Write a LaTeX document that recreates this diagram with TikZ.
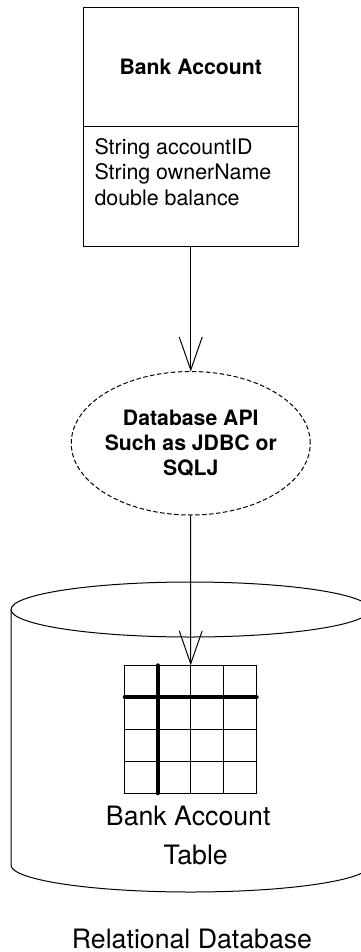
\documentclass[tikz,border=0pt]{standalone}
\usepackage{fontspec}
\setmainfont{TeX Gyre Heros}
\usetikzlibrary{arrows.meta}
\usetikzlibrary{calc}
\usetikzlibrary{positioning}
\usetikzlibrary{shapes.geometric}
\tikzset{>={Straight Barb[length=33pt,width=23pt,line width=1pt]}}

\begin{document}
\begin{tikzpicture}[
        x=1pt,y=1pt,
        line width=1pt,
        node distance=125pt,
        classbox/.style={draw,rectangle,outer sep=0pt,inner sep=0pt,minimum width=215.5pt,minimum height=119.5pt},
        apibubble/.style={draw,ellipse,dashed,dash pattern=on 4.5pt off 2.5pt,outer sep=0pt,inner sep=0pt,inner xsep=-3pt,
            minimum width=239pt,minimum height=143.5pt,align=center,font=\fontsize{21.2}{25.4}\selectfont\bfseries},
        smalltext/.style={inner sep=0pt,align=left,font=\fontsize{21.4}{25.4}\selectfont},
        bigtext/.style={inner sep=0pt,font=\fontsize{26.7}{30}\selectfont},
        tablegrid/.style={draw,rectangle,outer sep=0pt,inner sep=0pt,minimum width=132pt,minimum height=128pt},
        thickline/.style={line width=4pt,line cap=round}
    ]
    \useasboundingbox (0,0) rectangle (361,-952);

    \node[classbox,font=\fontsize{21.2}{25.4}\selectfont\bfseries] (head) at (190.75,-67.25) {Bank Account};
    \node[classbox,below=0pt of head] (attrs) {};
    \node[smalltext,anchor=north west] (fields) at ($(attrs.north west)+(11,-11)$) {String accountID\\String ownerName\\double balance};

    \node[apibubble,below=of attrs] (api) {Database API\\Such as JDBC or\\SQLJ};

    % database drum
    \coordinate (dbtop) at (190.5,-609.5);
    \coordinate (dbbot) at (190.5,-865);
    \draw (dbtop) ellipse (179.5 and 27.5);
    \draw ($(dbtop)+(-179.5,0)$) -- ($(dbbot)+(-179.5,0)$) arc (180:360:179.5 and 27);
    \draw ($(dbtop)+(179.5,0)$) -- ($(dbbot)+(179.5,0)$);

    \node[tablegrid] (grid) at (190.7,-729.3) {};
    \foreach \i in {1,2,3} {
        \draw ($(grid.north west)+(33*\i,0)$) -- ($(grid.south west)+(33*\i,0)$);
        \draw ($(grid.north west)+(0,-32*\i)$) -- ($(grid.north east)+(0,-32*\i)$);
    }
    \draw[thickline] ($(grid.north west)+(33,0)$) -- ($(grid.south west)+(33,0)$);
    \draw[thickline] ($(grid.north west)+(0,-32)$) -- ($(grid.north east)+(0,-32)$);

    \node[bigtext,below=12pt of grid,xshift=-2.5pt] (tabname) {Bank Account};
    \node[bigtext,below=18pt of tabname,xshift=7.5pt] (tabword) {Table};
    \node[bigtext] (dbname) at (192,-938.5) {Relational Database};

    \draw[->] (attrs) -- (api);
    \draw[->] (api) -- (grid.north);
\end{tikzpicture}
\end{document}
